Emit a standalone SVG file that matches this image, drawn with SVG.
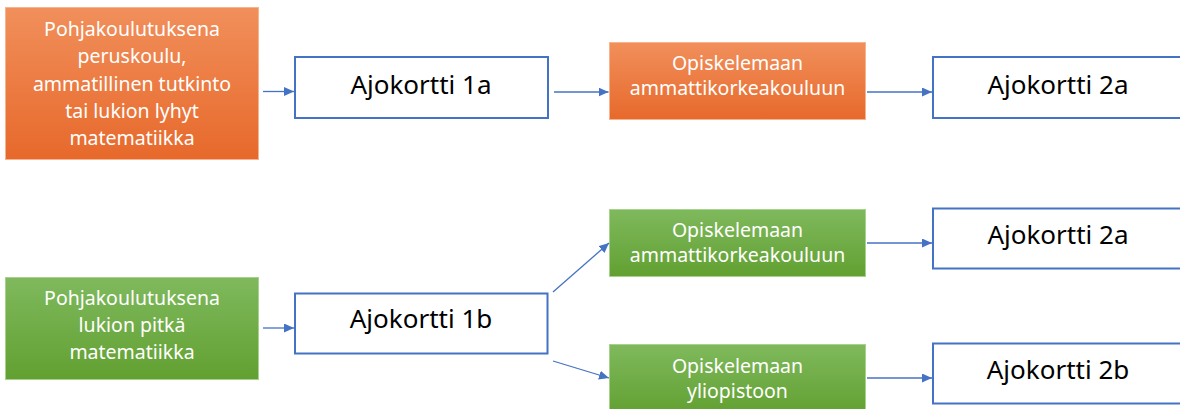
<svg xmlns="http://www.w3.org/2000/svg" width="1180" height="409" viewBox="0 0 1180 409">
  <defs>
    <linearGradient id="gOrange" x1="0" y1="0" x2="0" y2="1">
      <stop offset="0" stop-color="#F18F5B"/>
      <stop offset="1" stop-color="#E7692B"/>
    </linearGradient>
    <linearGradient id="gGreen" x1="0" y1="0" x2="0" y2="1">
      <stop offset="0" stop-color="#7FB95D"/>
      <stop offset="1" stop-color="#62A031"/>
    </linearGradient>
    <marker id="arrow" markerUnits="userSpaceOnUse" markerWidth="11" markerHeight="10" refX="10" refY="4.5" orient="auto">
      <path d="M0,0 L10,4.5 L0,9 z" fill="#4472C4"/>
    </marker>
  </defs>
  <style>
    .orange { fill: url(#gOrange); stroke: #F6B48E; stroke-width: 1; }
    .green { fill: url(#gGreen); stroke: #A9D18E; stroke-width: 1; }
    .card { fill: #FFFFFF; stroke: #4472C4; stroke-width: 2; }
    .lbl { font-family: "Noto Sans", "Open Sans", sans-serif; font-size: 19.5px; fill: #FFFFFF; text-anchor: middle; }
    .big { font-family: "Noto Sans", "Open Sans", sans-serif; font-size: 26px; fill: #000000; text-anchor: middle; }
    .conn { stroke: #4472C4; stroke-width: 1.3; fill: none; marker-end: url(#arrow); }
  </style>

  <rect width="1180" height="409" fill="#FFFFFF"/>

  <!-- top row -->
  <g id="base-short">
    <rect class="orange" x="5.5" y="7.5" width="253" height="152"/>
    <text class="lbl" x="132" y="36">Pohjakoulutuksena</text>
    <text class="lbl" x="132" y="63">peruskoulu,</text>
    <text class="lbl" x="132" y="90.5">ammatillinen tutkinto</text>
    <text class="lbl" x="132" y="117.5">tai lukion lyhyt</text>
    <text class="lbl" x="132" y="145">matematiikka</text>
  </g>
  <g id="card-1a">
    <rect class="card" x="295" y="57" width="253" height="61"/>
    <text class="big" x="421" y="94">Ajokortti 1a</text>
  </g>
  <g id="amk-top">
    <rect class="orange" x="609.5" y="42.5" width="256" height="77"/>
    <text class="lbl" x="737.5" y="70">Opiskelemaan</text>
    <text class="lbl" x="737.5" y="95">ammattikorkeakouluun</text>
  </g>
  <g id="card-2a-top">
    <rect class="card" x="933" y="57" width="252" height="61"/>
    <text class="big" x="1058" y="93.5">Ajokortti 2a</text>
  </g>

  <!-- bottom row -->
  <g id="base-long">
    <rect class="green" x="5.5" y="277.5" width="253" height="102"/>
    <text class="lbl" x="132" y="305">Pohjakoulutuksena</text>
    <text class="lbl" x="132" y="332">lukion pitkä</text>
    <text class="lbl" x="132" y="359">matematiikka</text>
  </g>
  <g id="card-1b">
    <rect class="card" x="295" y="293.5" width="252.5" height="60"/>
    <text class="big" x="421" y="328">Ajokortti 1b</text>
  </g>
  <g id="amk-bottom">
    <rect class="green" x="609.5" y="209.5" width="256" height="67"/>
    <text class="lbl" x="737.5" y="237">Opiskelemaan</text>
    <text class="lbl" x="737.5" y="262">ammattikorkeakouluun</text>
  </g>
  <g id="university">
    <rect class="green" x="609.5" y="344.5" width="256" height="70"/>
    <text class="lbl" x="737.5" y="373">Opiskelemaan</text>
    <text class="lbl" x="737.5" y="398">yliopistoon</text>
  </g>
  <g id="card-2a-bottom">
    <rect class="card" x="933" y="208.5" width="252" height="60"/>
    <text class="big" x="1058" y="244">Ajokortti 2a</text>
  </g>
  <g id="card-2b">
    <rect class="card" x="933" y="343.5" width="252" height="60"/>
    <text class="big" x="1058" y="379">Ajokortti 2b</text>
  </g>

  <!-- connectors -->
  <g id="connectors">
    <line class="conn" x1="263" y1="91.5" x2="294" y2="91.5"/>
    <line class="conn" x1="554" y1="92" x2="608.5" y2="92"/>
    <line class="conn" x1="867" y1="92" x2="932" y2="92"/>
    <line class="conn" x1="263" y1="328" x2="294" y2="328"/>
    <line class="conn" x1="553" y1="292" x2="609" y2="243"/>
    <line class="conn" x1="553" y1="361" x2="609" y2="378"/>
    <line class="conn" x1="867" y1="243" x2="932" y2="243"/>
    <line class="conn" x1="867" y1="378" x2="932" y2="378"/>
  </g>
</svg>
